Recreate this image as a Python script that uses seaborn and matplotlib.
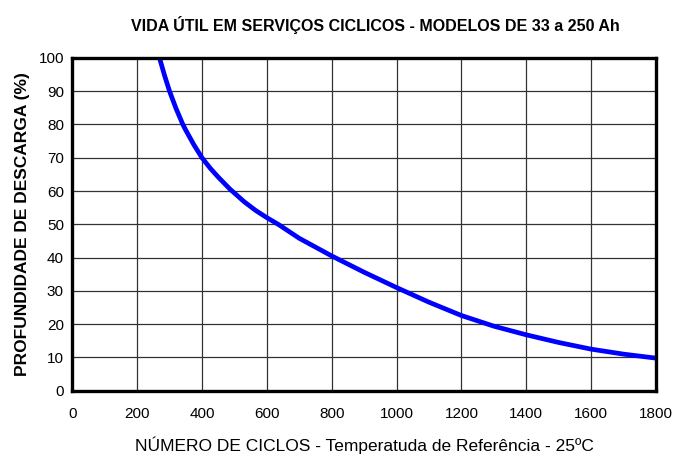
import seaborn as sns
import matplotlib.pyplot as plt
import pandas as pd

# Curve values
ciclos = [269, 285, 300, 320, 341, 350, 375, 400, 425, 450, 486, 530, 565, 600, 635, 700,
          800, 900, 1000, 1100, 1200, 1300, 1400, 1500, 1600, 1700, 1800]
descarga = [100, 94.6, 90, 84.8, 80, 78.3, 73.9, 70, 66.9, 64.2, 60.6, 56.8, 54.2, 52, 50, 45.8,
            40.5, 35.6, 31, 26.6, 22.6, 19.4, 16.8, 14.5, 12.5, 11, 9.8]

x_ticks = [0, 200, 400, 600, 800, 1000, 1200, 1400, 1600, 1800]
y_ticks = [0, 10, 20, 30, 40, 50, 60, 70, 80, 90, 100]

df = pd.DataFrame({'ciclos': ciclos, 'descarga': descarga})

sns.set_style("white")
plt.rcParams['font.family'] = ['Liberation Sans', 'DejaVu Sans']
plt.rcParams['text.color'] = 'black'
plt.rcParams['axes.labelcolor'] = 'black'
plt.rcParams['xtick.color'] = 'black'
plt.rcParams['ytick.color'] = 'black'

fig = plt.figure(figsize=(6.75, 4.63), dpi=100)
ax = fig.add_axes([0.107, 0.156, 0.865, 0.719])

sns.lineplot(data=df, x='ciclos', y='descarga', color='#0000FF', linewidth=3.4,
             solid_joinstyle='round', solid_capstyle='butt', ax=ax)

ax.set_xlim(0, 1800)
ax.set_ylim(0, 100)
ax.set_xticks(x_ticks)
ax.set_yticks(y_ticks)
ax.tick_params(axis='both', length=0, labelsize=11)
ax.tick_params(axis='x', pad=12)
ax.tick_params(axis='y', pad=6)
ax.grid(True, color='#333333', linewidth=0.9)
ax.set_axisbelow(True)
for s in ax.spines.values():
    s.set_visible(True)
    s.set_color('black')
    s.set_linewidth(2.4)

ax.set_xlabel("NÚMERO DE CICLOS - Temperatuda de Referência - 25ºC", fontsize=12.5, labelpad=11)
ax.set_ylabel("PROFUNDIDADE DE DESCARGA (%)", fontsize=12.5, fontweight='bold', labelpad=6)

fig.text(0.556, 0.946, "VIDA ÚTIL EM SERVIÇOS CICLICOS - MODELOS DE 33 a 250 Ah",
         ha='center', va='center', fontsize=11.5, fontweight='bold')

fig.savefig('out.png', dpi=100)
